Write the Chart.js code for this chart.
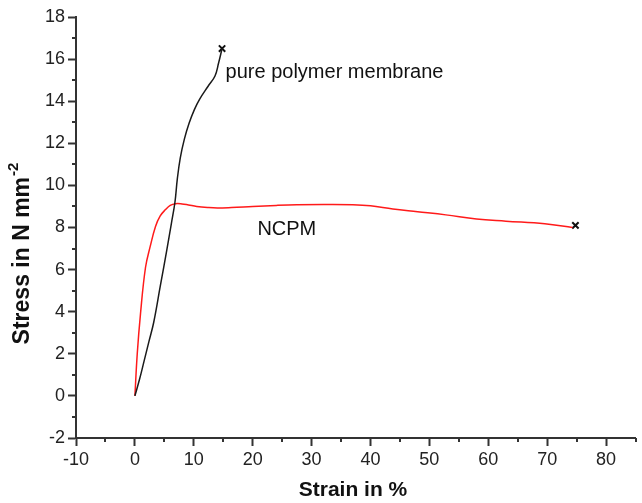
<!DOCTYPE html>
<html>
<head>
<meta charset="utf-8">
<script src="https://cdn.jsdelivr.net/npm/chart.js"></script>
<style>
  html, body { margin: 0; padding: 0; background: #fff; }
  #wrap { width: 642px; height: 503px; }
</style>
</head>
<body>
<div id="wrap"><canvas id="chart" width="642" height="503"></canvas></div>
<script>
// Values
const strainPure = [0, 0.8, 1.6, 2.4, 3.2, 4.3, 5.4, 6.2, 6.8, 7.2, 7.7, 8.4, 9.2, 10.1, 11.0, 12.4, 13.6, 14.2, 14.8];
const stressPure = [0, 0.8, 1.7, 2.6, 3.5, 5.2, 6.9, 8.2, 9.2, 10.3, 11.3, 12.2, 12.95, 13.6, 14.1, 14.7, 15.2, 15.8, 16.5];

const strainNcpm = [0, 0.4, 0.95, 1.8, 2.6, 3.5, 4.3, 5.2, 6.0, 6.9, 8, 9.1, 10.5, 12.4, 14, 16.4, 20, 24, 27.5, 32, 37, 40, 43.8, 48, 52.8, 58, 63, 69.6, 74.3];
const stressNcpm = [0, 2, 3.9, 6.1, 7.1, 8.05, 8.55, 8.85, 9.05, 9.13, 9.12, 9.07, 9.0, 8.95, 8.93, 8.95, 9.0, 9.05, 9.08, 9.09, 9.08, 9.03, 8.88, 8.75, 8.6, 8.4, 8.3, 8.18, 8.0];

// break points (x markers)
const breakStrain = [14.8, 74.8];
const breakStress = [16.5, 8.1];

const xTicks = [-10, 0, 10, 20, 30, 40, 50, 60, 70, 80];
const yTicks = [-2, 0, 2, 4, 6, 8, 10, 12, 14, 16, 18];

const labels = [
    { text: 'pure polymer membrane', x: 15.4, y: 15.35 },
    { text: 'NCPM', x: 20.8, y: 7.9 }
];

function zip(xs, ys) {
    return xs.map((x, i) => ({ x: x, y: ys[i] }));
}

const FONT = "'Liberation Sans', Arial, sans-serif";
const AXIS_COLOR = '#333';

// minor ticks, axis titles and curve labels
const extras = {
    id: 'extras',
    afterDraw(chart) {
        const ctx = chart.ctx;
        const xs = chart.scales.x;
        const ys = chart.scales.y;
        const area = chart.chartArea;
        ctx.save();
        ctx.strokeStyle = AXIS_COLOR;
        ctx.lineWidth = 2;
        for (let v = -5; v <= 85; v += 10) {
            const px = Math.round(xs.getPixelForValue(v));
            ctx.beginPath();
            ctx.moveTo(px, area.bottom);
            ctx.lineTo(px, area.bottom + 4);
            ctx.stroke();
        }
        for (let v = -1; v <= 17; v += 2) {
            const py = Math.round(ys.getPixelForValue(v));
            ctx.beginPath();
            ctx.moveTo(area.left, py);
            ctx.lineTo(area.left - 4, py);
            ctx.stroke();
        }

        // curve labels
        ctx.fillStyle = '#111';
        ctx.font = '20px ' + FONT;
        ctx.textBaseline = 'middle';
        ctx.textAlign = 'left';
        labels.forEach(l => {
            ctx.fillText(l.text, xs.getPixelForValue(l.x), ys.getPixelForValue(l.y));
        });

        // x title
        ctx.font = 'bold 21px ' + FONT;
        ctx.textAlign = 'center';
        ctx.fillText('Strain in %', 353, 490);

        // y title with superscript
        ctx.translate(23, 254);
        ctx.rotate(-Math.PI / 2);
        const main = 'Stress in N mm';
        ctx.font = 'bold 23px ' + FONT;
        const wMain = ctx.measureText(main).width;
        ctx.font = 'bold 15px ' + FONT;
        const wSup = ctx.measureText('-2').width;
        const start = -(wMain + wSup) / 2;
        ctx.textAlign = 'left';
        ctx.font = 'bold 23px ' + FONT;
        ctx.fillText(main, start, 0);
        ctx.font = 'bold 15px ' + FONT;
        ctx.fillText('-2', start + wMain + 1, -9);
        ctx.restore();
    }
};

const ctx = document.getElementById('chart').getContext('2d');
const chart = new Chart(ctx, {
    type: 'scatter',
    data: {
        datasets: [
            {
                data: zip(strainPure, stressPure),
                showLine: true,
                borderColor: '#1a1a1a',
                borderWidth: 1.5,
                pointRadius: 0,
                tension: 0.4
            },
            {
                data: zip(strainNcpm, stressNcpm),
                showLine: true,
                borderColor: '#ff1a1a',
                borderWidth: 1.5,
                pointRadius: 0,
                tension: 0.4
            },
            {
                data: zip(breakStrain, breakStress),
                showLine: false,
                pointStyle: 'crossRot',
                pointRadius: 4.5,
                borderColor: '#111',
                borderWidth: 2
            }
        ]
    },
    options: {
        responsive: false,
        animation: false,
        devicePixelRatio: 1,
        layout: { padding: { top: 17, left: 0, right: 0, bottom: 0 } },
        plugins: {
            legend: { display: false },
            tooltip: { enabled: false }
        },
        scales: {
            x: {
                type: 'linear',
                min: -10,
                max: 85,
                afterBuildTicks: s => { s.ticks = xTicks.map(v => ({ value: v })); },
                afterFit: s => { s.height = 65; },
                grid: {
                    drawOnChartArea: false,
                    drawTicks: true,
                    tickLength: 8,
                    tickWidth: 2,
                    tickColor: AXIS_COLOR
                },
                border: { color: AXIS_COLOR, width: 2 },
                ticks: {
                    padding: 3,
                    maxRotation: 0,
                    autoSkip: false,
                    color: '#222',
                    font: { family: FONT, size: 18 }
                }
            },
            y: {
                type: 'linear',
                min: -2,
                max: 18,
                afterBuildTicks: s => { s.ticks = yTicks.map(v => ({ value: v })); },
                afterFit: s => { s.width = 76; },
                grid: {
                    drawOnChartArea: false,
                    drawTicks: true,
                    tickLength: 8,
                    tickWidth: 2,
                    tickColor: AXIS_COLOR
                },
                border: { color: AXIS_COLOR, width: 2 },
                ticks: {
                    padding: 3,
                    autoSkip: false,
                    color: '#222',
                    font: { family: FONT, size: 18 }
                }
            }
        }
    },
    plugins: [extras]
});
</script>
</body>
</html>
